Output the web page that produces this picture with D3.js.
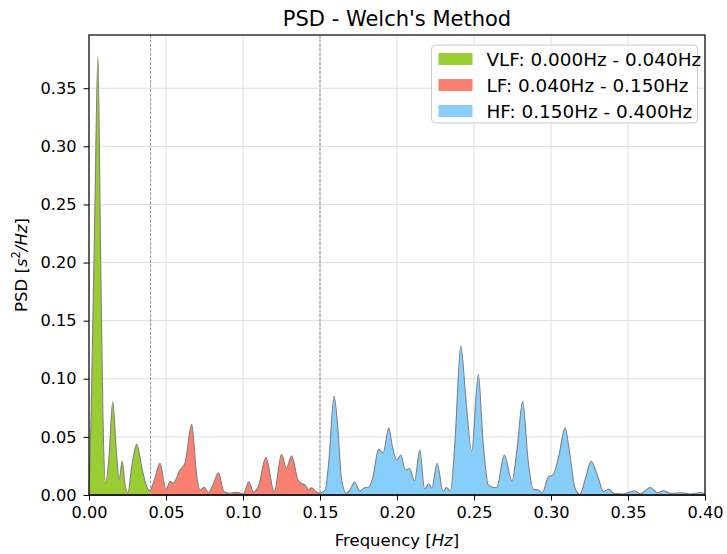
<!DOCTYPE html>
<html>
<head>
<meta charset="utf-8">
<script src="https://cdn.jsdelivr.net/npm/d3@7"></script>
<style>
  body { margin: 0; background: #fff; }
  svg { display: block; font-family: "DejaVu Sans", sans-serif; }
</style>
</head>
<body>
<svg id="chart" width="727" height="554"></svg>
<script>
// ---- Data ----
const vlfFreq = [0, 0.0013, 0.0036, 0.0058, 0.0075, 0.0091, 0.0108, 0.0130, 0.0154, 0.0180, 0.0195, 0.0216, 0.0234, 0.0253, 0.0279, 0.0310, 0.0346, 0.0385, 0.0400];
const vlfPsd  = [0, 0.0645, 0.228, 0.377, 0.211, 0.0645, 0.0103, 0.033, 0.0803, 0.033, 0.0129, 0.0293, 0.0086, 0.002, 0.0258, 0.0436, 0.0215, 0.0043, 0.0034];

const lfFreq = [0.0400, 0.0429, 0.0461, 0.0500, 0.0526, 0.0547, 0.0591, 0.0623, 0.0667, 0.0699, 0.0721, 0.0749, 0.0775, 0.0805, 0.0840, 0.0877, 0.0916, 0.0955, 0.1002, 0.1039, 0.1067, 0.1099, 0.1149, 0.1203, 0.1250, 0.1282, 0.1316, 0.1357, 0.1381, 0.1403, 0.1424, 0.1446, 0.1476, 0.1500];
const lfPsd  = [0.0034, 0.0146, 0.0273, 0.0043, 0.0116, 0.0103, 0.0215, 0.0273, 0.0608, 0.0172, 0.0043, 0.0066, 0.002, 0.0086, 0.0192, 0.0028, 0.0015, 0.0023, 0.0009, 0.0114, 0.0026, 0.0071, 0.0323, 0.0028, 0.0348, 0.0232, 0.0337, 0.0129, 0.0099, 0.0086, 0.0046, 0.0062, 0.0026, 0.0015];

const hfFreq = [0.1500, 0.1534, 0.1558, 0.1591, 0.1617, 0.1638, 0.1671, 0.1695, 0.1724, 0.1758, 0.1790, 0.1816, 0.1844, 0.1880, 0.1910, 0.1947, 0.1968, 0.1999, 0.2025, 0.2054, 0.2082, 0.2114, 0.2148, 0.2179, 0.2205, 0.2226, 0.2261, 0.2299, 0.2321, 0.2347, 0.2377, 0.2414, 0.2448, 0.2485, 0.2528, 0.2558, 0.2594, 0.2647, 0.2697, 0.2747, 0.2779, 0.2816, 0.2851, 0.2885, 0.2918, 0.2942, 0.2984, 0.3015, 0.3052, 0.3091, 0.3123, 0.3156, 0.3188, 0.3221, 0.3260, 0.3307, 0.3340, 0.3375, 0.3409, 0.3471, 0.3543, 0.3578, 0.3646, 0.3690, 0.3729, 0.3779, 0.3854, 0.3903, 0.3976, 0.4000];
const hfPsd  = [0.0015, 0.0043, 0.0301, 0.0852, 0.0559, 0.0157, 0.0015, 0.0043, 0.0112, 0.0034, 0.0063, 0.0066, 0.0157, 0.0394, 0.0361, 0.0579, 0.0430, 0.0301, 0.0344, 0.0215, 0.0228, 0.0120, 0.0387, 0.0052, 0.0095, 0.0060, 0.0273, 0.0030, 0.0065, 0.0034, 0.0473, 0.1282, 0.0818, 0.0373, 0.1039, 0.0473, 0.0082, 0.0062, 0.0344, 0.0120, 0.0387, 0.0806, 0.0301, 0.0049, 0.0043, 0.0017, 0.0157, 0.0175, 0.0344, 0.0579, 0.0344, 0.0058, 0.0006, 0.0129, 0.0290, 0.0146, 0.0030, 0.0050, 0.0013, 0.0009, 0.0037, 0.0010, 0.0065, 0.0020, 0.0037, 0.0015, 0.0019, 0.0009, 0.0022, 0.0009];

const bandNames  = ["VLF: 0.000Hz - 0.040Hz", "LF: 0.040Hz - 0.150Hz", "HF: 0.150Hz - 0.400Hz"];
const bandColors = ["#9acd32", "#fa8072", "#87cefa"];
const bandEdges  = [0.04, 0.15];
const xTicks = [0, 0.05, 0.10, 0.15, 0.20, 0.25, 0.30, 0.35, 0.40];
const yTicks = [0, 0.05, 0.10, 0.15, 0.20, 0.25, 0.30, 0.35];
const xDomain = [0, 0.40];
const yDomain = [0, 0.3958];

// ---- Layout ----
const svg = d3.select("#chart");
const L = 89, R = 705, T = 35, B = 495;
const x = d3.scaleLinear().domain(xDomain).range([L, R]);
const y = d3.scaleLinear().domain(yDomain).range([B, T]);

// grid
const grid = svg.append("g");
grid.selectAll(".gx").data(xTicks).enter().append("line")
  .attr("x1", d => x(d)).attr("x2", d => x(d)).attr("y1", T).attr("y2", B)
  .attr("stroke", "#dedede").attr("stroke-width", 1);
grid.selectAll(".gy").data(yTicks).enter().append("line")
  .attr("x1", L).attr("x2", R).attr("y1", d => y(d)).attr("y2", d => y(d))
  .attr("stroke", "#dedede").attr("stroke-width", 1);

// band boundary dashed lines
svg.selectAll(".edge").data(bandEdges).enter().append("line")
  .attr("x1", d => x(d)).attr("x2", d => x(d)).attr("y1", T).attr("y2", B)
  .attr("stroke", "#888").attr("stroke-width", 0.9).attr("stroke-dasharray", "3,1.5");

// fills
const bands = [
  { f: vlfFreq, p: vlfPsd },
  { f: lfFreq, p: lfPsd },
  { f: hfFreq, p: hfPsd }
];
const area = d3.area().x(d => x(d[0])).y0(y(0)).y1(d => y(d[1])).curve(d3.curveMonotoneX);
const line = d3.line().x(d => x(d[0])).y(d => y(d[1])).curve(d3.curveMonotoneX);
bands.forEach((b, i) => {
  const pts = b.f.map((f, j) => [f, b.p[j]]);
  svg.append("path").attr("d", area(pts)).attr("fill", bandColors[i]).attr("stroke", "none");
  svg.append("path").attr("d", line(pts)).attr("fill", "none").attr("stroke", "#808080").attr("stroke-width", 1.1);
});
// baseline edge of fills
svg.append("line").attr("x1", L).attr("x2", R).attr("y1", y(0)).attr("y2", y(0))
  .attr("stroke", "#555").attr("stroke-width", 2.2);

// axes
const xAxis = d3.axisBottom(x).tickValues(xTicks).tickFormat(d3.format(".2f")).tickSize(5.5).tickPadding(6);
const yAxis = d3.axisLeft(y).tickValues(yTicks).tickFormat(d3.format(".2f")).tickSize(5.5).tickPadding(7);
const gx = svg.append("g").attr("transform", `translate(0,${B})`).call(xAxis);
const gy = svg.append("g").attr("transform", `translate(${L},0)`).call(yAxis);
[gx, gy].forEach(g => {
  g.select(".domain").remove();
  g.selectAll("line").attr("stroke", "#000").attr("stroke-width", 1);
  g.selectAll("text").attr("font-family", "DejaVu Sans").attr("font-size", 16.2).attr("fill", "#000");
});

// frame
svg.append("rect").attr("x", L).attr("y", T).attr("width", R - L).attr("height", B - T)
  .attr("fill", "none").attr("stroke", "#000").attr("stroke-width", 1.2);

// title
svg.append("text").attr("x", (L + R) / 2).attr("y", 26).attr("text-anchor", "middle")
  .attr("font-size", 21).attr("fill", "#000").text("PSD - Welch's Method");

// x label
const xl = svg.append("text").attr("x", (L + R) / 2).attr("y", 546).attr("text-anchor", "middle")
  .attr("font-size", 16.5).attr("fill", "#000");
xl.append("tspan").text("Frequency [");
xl.append("tspan").attr("font-style", "italic").text("Hz");
xl.append("tspan").text("]");

// y label
const yl = svg.append("text").attr("transform", `translate(27,${(T + B) / 2}) rotate(-90)`)
  .attr("text-anchor", "middle").attr("font-size", 16.5).attr("fill", "#000");
yl.append("tspan").text("PSD [");
yl.append("tspan").attr("font-style", "italic").text("s");
yl.append("tspan").attr("font-size", 11.5).attr("dy", -7).text("2");
yl.append("tspan").attr("font-style", "italic").attr("dy", 7).text("/Hz");
yl.append("tspan").text("]");

// legend
const lg = svg.append("g");
lg.append("rect").attr("x", 431.5).attr("y", 45).attr("width", 266).attr("height", 78).attr("rx", 4)
  .attr("fill", "#fff").attr("fill-opacity", 0.8).attr("stroke", "#cccccc").attr("stroke-width", 1);
bandNames.forEach((name, i) => {
  const cy = 59 + i * 26;
  lg.append("rect").attr("x", 438.5).attr("y", cy - 6).attr("width", 34).attr("height", 12).attr("fill", bandColors[i]);
  lg.append("text").attr("x", 486.5).attr("y", cy).attr("dy", "0.36em").attr("font-size", 18.4)
    .attr("fill", "#000").text(name);
});
</script>
</body>
</html>
